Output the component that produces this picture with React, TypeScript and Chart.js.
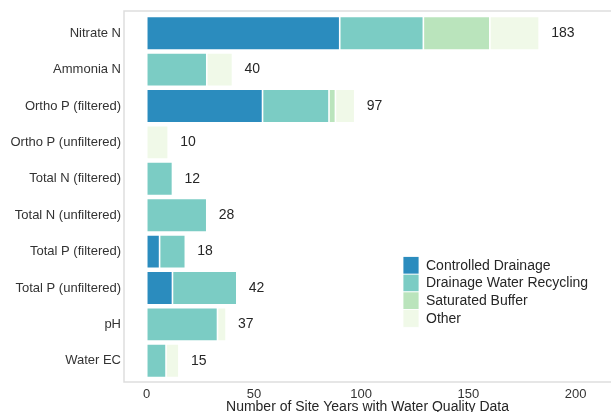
import React, { useEffect, useRef } from "react";
import { Chart, registerables } from "chart.js";

Chart.register(...registerables);

const categories = [
  "Nitrate N",
  "Ammonia N",
  "Ortho P (filtered)",
  "Ortho P (unfiltered)",
  "Total N (filtered)",
  "Total N (unfiltered)",
  "Total P (filtered)",
  "Total P (unfiltered)",
  "pH",
  "Water EC",
];

const controlledDrainage = [90, 0, 54, 0, 0, 0, 6, 12, 0, 0];
const drainageWaterRecycling = [39, 28, 31, 0, 12, 28, 12, 30, 33, 9];
const saturatedBuffer = [31, 0, 3, 0, 0, 0, 0, 0, 0, 0];
const other = [23, 12, 9, 10, 0, 0, 0, 0, 4, 6];

const seriesNames = ["Controlled Drainage", "Drainage Water Recycling", "Saturated Buffer", "Other"];
const seriesColors = ["#2b8cbe", "#7bccc4", "#bae4bc", "#f0f9e8"];
const xTicks = [0, 50, 100, 150, 200];
const xTitle = "Number of Site Years with Water Quality Data";

const FONT = "'Liberation Sans', Arial, sans-serif";

const framePlugin = {
  id: "frame",
  beforeDatasetsDraw(chart: any) {
    const { ctx, chartArea } = chart;
    ctx.save();
    ctx.strokeStyle = "#dedede";
    ctx.lineWidth = 1.5;
    const top = chartArea.top - 4;
    const bottom = chartArea.bottom + 3;
    ctx.beginPath();
    ctx.moveTo(chartArea.right + 2, top);
    ctx.lineTo(chartArea.left, top);
    ctx.lineTo(chartArea.left, bottom);
    ctx.lineTo(chartArea.right + 2, bottom);
    ctx.stroke();
    ctx.restore();
  },
};

const totalsPlugin = {
  id: "totals",
  afterDatasetsDraw(chart: any) {
    const { ctx } = chart;
    const xScale = chart.scales.x;
    const yScale = chart.scales.y;
    ctx.save();
    ctx.fillStyle = "#262626";
    ctx.font = `14px ${FONT}`;
    ctx.textAlign = "left";
    ctx.textBaseline = "middle";
    categories.forEach((_, i) => {
      const total =
        controlledDrainage[i] + drainageWaterRecycling[i] + saturatedBuffer[i] + other[i];
      const x = xScale.getPixelForValue(total) + 12;
      const y = yScale.getPixelForValue(i);
      ctx.fillText(String(total), x, y);
    });
    ctx.restore();
  },
};

const legendPlugin = {
  id: "customLegend",
  afterDraw(chart: any) {
    const { ctx } = chart;
    const x0 = 403;
    const y0 = 256.5;
    const rowH = 17.7;
    ctx.save();
    ctx.font = `14px ${FONT}`;
    ctx.textBaseline = "middle";
    ctx.textAlign = "left";
    chart.data.datasets.forEach((ds: any, i: number) => {
      ctx.fillStyle = ds.backgroundColor;
      ctx.fillRect(x0, y0 + i * rowH, 16, rowH);
      ctx.strokeStyle = "#ffffff";
      ctx.lineWidth = 0.8;
      ctx.strokeRect(x0, y0 + i * rowH, 16, rowH);
      ctx.fillStyle = "#262626";
      ctx.fillText(ds.label, x0 + 23, y0 + i * rowH + rowH / 2 + 0.5);
    });
    ctx.restore();
  },
};

export default function App() {
  const canvasRef = useRef<HTMLCanvasElement | null>(null);

  useEffect(() => {
    if (!canvasRef.current) return;
    const seriesData = [controlledDrainage, drainageWaterRecycling, saturatedBuffer, other];
    const chart = new Chart(canvasRef.current, {
      type: "bar",
      data: {
        labels: categories,
        datasets: seriesNames.map((name, i) => ({
          label: name,
          data: seriesData[i].map((v) => (v === 0 ? null : v)),
          backgroundColor: seriesColors[i],
          borderColor: "#ffffff",
          borderWidth: 0.8,
          borderSkipped: false,
          barPercentage: 0.92,
          categoryPercentage: 1,
        })),
      },
      options: {
        indexAxis: "y",
        animation: false,
        responsive: false,
        maintainAspectRatio: false,
        layout: { padding: { top: 15, right: 0, bottom: 0, left: 0 } },
        plugins: {
          legend: { display: false },
          tooltip: { enabled: false },
        },
        scales: {
          x: {
            type: "linear",
            stacked: true,
            min: -10.6,
            max: 216.5,
            grid: { display: false, drawTicks: false },
            border: { display: false },
            afterBuildTicks(scale: any) {
              scale.ticks = xTicks.map((v) => ({ value: v }));
            },
            afterFit(scale: any) {
              scale.height = 33;
            },
            ticks: {
              color: "#333333",
              font: { family: FONT, size: 13 },
              padding: 8,
              maxRotation: 0,
              autoSkip: false,
            },
            title: {
              display: true,
              text: xTitle,
              color: "#262626",
              font: { family: FONT, size: 14, lineHeight: 1 },
              padding: { top: 0, bottom: -2 },
            },
          },
          y: {
            type: "category",
            stacked: true,
            grid: { display: false, drawTicks: false },
            border: { display: false },
            afterFit(scale: any) {
              scale.width = 124;
            },
            ticks: {
              color: "#333333",
              font: { family: FONT, size: 13 },
              padding: 3,
              autoSkip: false,
            },
          },
        },
      },
      plugins: [framePlugin, totalsPlugin, legendPlugin],
    } as any);
    return () => chart.destroy();
  }, []);

  return (
    <div style={{ position: "fixed", left: 0, top: 0, width: 611, height: 412, background: "#fff" }}>
      <canvas ref={canvasRef} width={611} height={412} style={{ width: 611, height: 412, display: "block" }} />
    </div>
  );
}
